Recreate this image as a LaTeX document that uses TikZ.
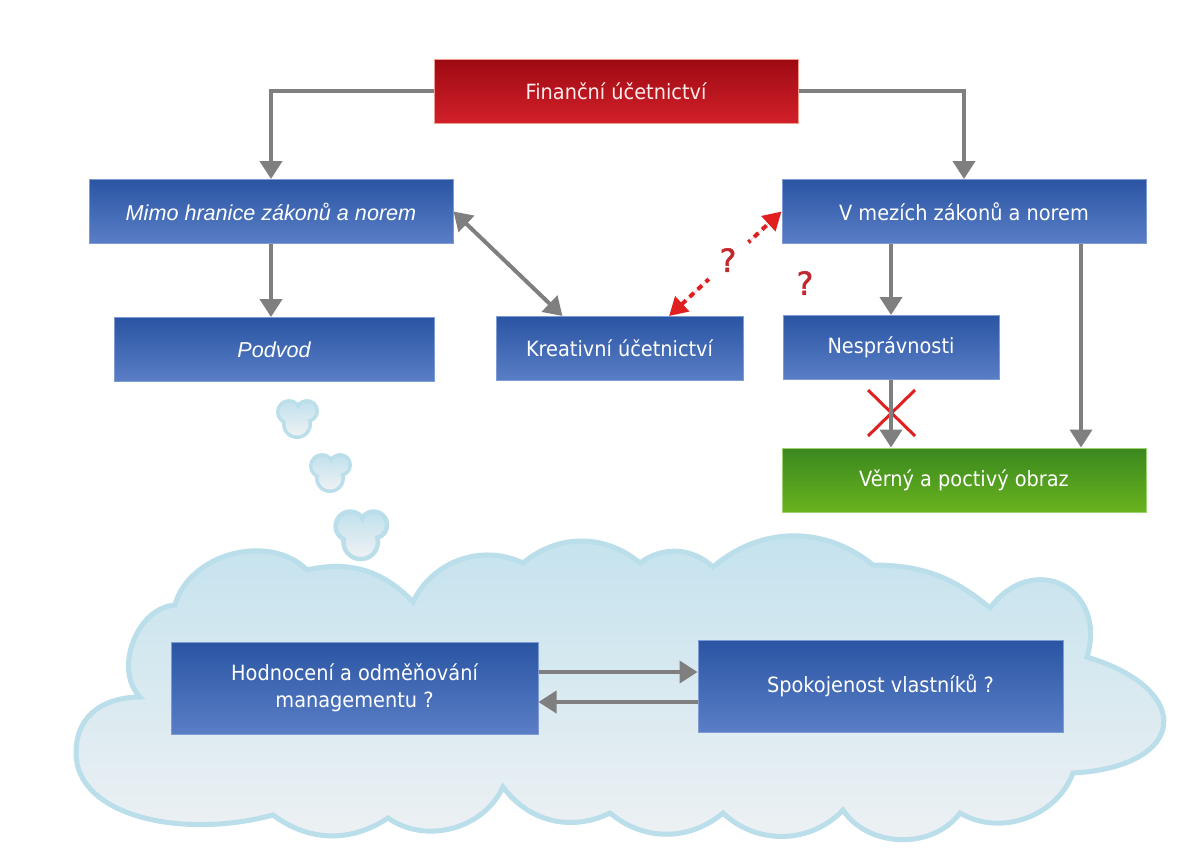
\documentclass[tikz,border=0pt]{standalone}
\usepackage{fontspec}
\setmainfont{DejaVu Sans}[FakeStretch=0.92]
\newfontfamily\itsans{Liberation Sans}
\newfontfamily\qsans{DejaVu Sans}[FakeBold=1.3]
\usetikzlibrary{arrows.meta,positioning,calc}
\definecolor{boxtop}{HTML}{2A55A3}
\definecolor{boxbot}{HTML}{5A7EC6}
\definecolor{boxedge}{HTML}{7E9BD6}
\definecolor{redtop}{HTML}{9E0A12}
\definecolor{redbot}{HTML}{D2202A}
\definecolor{rededge}{HTML}{F19A8E}
\definecolor{greentop}{HTML}{3A881F}
\definecolor{greenbot}{HTML}{69B31E}
\definecolor{greenedge}{HTML}{9CD36E}
\definecolor{flowgray}{HTML}{7F7F7F}
\definecolor{doubt}{HTML}{E02020}
\definecolor{qmark}{HTML}{C1272D}
\definecolor{cloudline}{HTML}{BADEEA}
\definecolor{cloudtop}{HTML}{C3E2EE}
\definecolor{cloudbot}{HTML}{EEF1F3}
\newcommand{\thoughtpuff}[3]{%
  \begin{scope}[shift={(#1,#2)},scale=#3]
    \fill[cloudline] (-9,-6) circle (13) (9,-7) circle (12) (-1,6) circle (15);
    \shade[top color=cloudtop,bottom color=cloudbot]
      (-9,-6) circle (9.5) (9,-7) circle (8.5) (-1,6) circle (11.5);
  \end{scope}}
\tikzset{
  box/.style={rectangle,draw=boxedge,line width=0.5pt,top color=boxtop,bottom color=boxbot,
    text=white,font=\fontsize{10.5}{13.5}\selectfont,align=center,inner sep=2pt,
    minimum width=182pt,minimum height=32pt},
  boxr/.style={box,draw=rededge,top color=redtop,bottom color=redbot,text=red!8!white},
  boxg/.style={box,draw=greenedge,top color=greentop,bottom color=greenbot},
  boxi/.style={box,font=\itsans\itshape\fontsize{10.8}{13}\selectfont},
  flow/.style={-{Triangle[length=9pt,width=11pt]},line width=2pt,draw=flowgray},
  flow2/.style={flow,{Triangle[length=9pt,width=11pt]}-{Triangle[length=9pt,width=11pt]}},
  doubtful/.style={{Triangle[length=9pt,width=10pt]}-{Triangle[length=9pt,width=10pt]},
    line width=2pt,draw=doubt,fill=doubt,dash pattern=on 3pt off 2.5pt},
  qlab/.style={text=qmark,font=\qsans\fontsize{16}{16}\selectfont},
  qgap/.style={qlab,circle,fill=white,inner sep=0pt,minimum size=27pt},
  % --- the thought cloud at the bottom ---
  cloud/.style={draw=cloudline,line width=2.5pt,top color=cloudtop,bottom color=cloudbot},
  puff/.style={bend left=#1},
}

\begin{document}
\begin{tikzpicture}[x=0.5pt,y=-0.5pt]
  \useasboundingbox (0,0) rectangle (1204,864);
  \fill[white] (0,0) rectangle (1204,864);

  % thought cloud and its bubbles
  \path[cloud] (140,697) to[puff=65] (175,605) to[puff=60] (307,570) to[puff=30] (413,602)
    to[puff=45] (523,563) to[puff=40] (640,563) to[puff=40] (713,567) to[puff=40] (873,565)
    to[puff=20] (990,608) to[puff=80,looseness=1.7] (1087,657) to[puff=80,looseness=2.5] (1073,773)
    to[puff=50] (960,813) to[puff=55] (843,810) to[puff=45] (723,813) to[puff=40] (610,813)
    to[puff=40] (503,787) to[puff=50] (388,818) to[puff=35] (273,815)
    .. controls (180,840) and (76,815) .. (76,753) .. controls (76,712) and (108,697) .. (140,697) -- cycle;
  \thoughtpuff{298}{418}{1}
  \thoughtpuff{331}{472}{1}
  \thoughtpuff{362}{534}{1.3}

  \node[boxr] (fin) at (616,91) {Finanční účetnictví};
  \node[boxi] (mimo) at (271,211.5) {Mimo hranice zákonů a norem};
  \node[boxi,minimum width=160pt] (podvod) at (274,349.5) {Podvod};
  \node[box,minimum width=123.5pt] (kreat) at (619.5,348.5) {Kreativní účetnictví};
  \node[box] (vmez) at (964,211.5) {V mezích zákonů a norem};
  \node[box,minimum width=108pt] (nespr) at (891,347.5) {Nesprávnosti};
  \node[boxg] (verny) at (964,480) {Věrný a poctivý obraz};
  \node[box,minimum width=183.5pt,minimum height=46pt] (hodn) at (354.5,688)
    {Hodnocení a odměňování\\managementu ?};
  \node[box,minimum width=182.5pt,minimum height=46pt] (spok) at (880.5,686)
    {Spokojenost vlastníků ?};

  \draw[flow] (fin.west) -| (mimo.north);
  \draw[flow] (fin.east) -| (vmez.north);
  \draw[flow] (mimo.south) -- (mimo.south |- podvod.north);
  \draw[flow2] (mimo.east) -- ($(kreat.north west)!0.27!(kreat.north east)$);
  \draw[doubtful] ($(kreat.north west)!0.70!(kreat.north east)$) -- (vmez.west);
  \node[qgap] (q1) at (728,260) {?};
  \node[qlab] (q2) at (805,283) {?};
  \draw[flow] (vmez.south -| nespr.north) -- (nespr.north);
  \draw[doubt,line width=1.5pt] ($(nespr.south)+(-23,10)$) -- ($(nespr.south)+(24,56)$)
    ($(nespr.south)+(-23,56)$) -- ($(nespr.south)+(24,10)$);
  \draw[flow] (nespr.south) -- (nespr.south |- verny.north);
  \draw[flow] ([xshift=58.5pt]vmez.south) -- ([xshift=58.5pt]vmez.south |- verny.north);
  \draw[flow] ([yshift=8pt]hodn.east) -- ([yshift=8pt]hodn.east -| spok.west);
  \draw[flow] ([yshift=-8pt]spok.west) -- ([yshift=-8pt]spok.west -| hodn.east);
\end{tikzpicture}
\end{document}
